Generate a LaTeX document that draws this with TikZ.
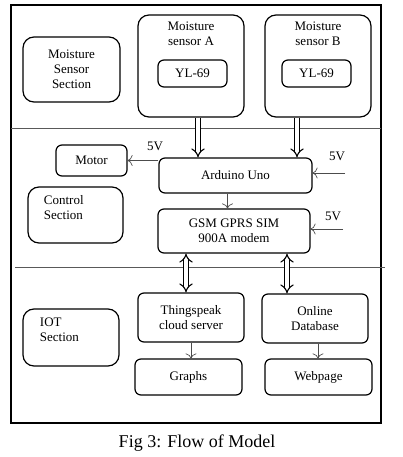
\documentclass[tikz,border=0pt]{standalone}
\usepackage{fontspec}
\setmainfont{Liberation Serif}
\usetikzlibrary{arrows.meta}
\usetikzlibrary{calc}

\tikzset{
  blk/.style={draw, line width=1.2pt, rounded corners=11pt, align=center, font=\fontsize{13}{15}\selectfont},
  sblk/.style={draw, line width=1.2pt, rounded corners=6pt, align=center, font=\fontsize{13}{15}\selectfont},
  txt/.style={align=center, font=\fontsize{13}{15}\selectfont},
  bus/.style={line width=1.1pt, double, double distance=3.5pt, -{Implies[length=5pt,width=12pt]}},
  wire/.style={-{To[length=5pt,width=11pt]}, gray!60!black, line width=0.7pt}
}

\begin{document}
\begin{tikzpicture}[x=1pt,y=-1pt]
  \useasboundingbox (0,0) rectangle (402,457);
  \draw[line width=1.4pt] (11,5) rectangle (381,423);
  \draw[gray!70!black] (11,128) -- (381,128);
  \draw[gray!70!black] (15,267) -- (385,267);

  % moisture sensor section
  \node[blk, minimum width=97, minimum height=65] (mss) at (71.5,69.5) {Moisture\\Sensor\\Section};
  \node[blk, minimum width=106, minimum height=102] (sensA) at (191,66) {};
  \node[txt, anchor=north] (sensAtxt) at ([yshift=-4pt]sensA.north) {Moisture\\sensor A};
  \node[sblk, minimum width=69, minimum height=27] (ylA) at (192.5,73.5) {YL-69};
  \node[blk, minimum width=106, minimum height=102] (sensB) at (318,66) {};
  \node[txt, anchor=north] (sensBtxt) at ([yshift=-4pt]sensB.north) {Moisture\\sensor B};
  \node[sblk, minimum width=69, minimum height=27] (ylB) at (316.5,73.5) {YL-69};

  % control section
  \node[sblk, minimum width=71, minimum height=31] (motor) at (91.5,160.5) {Motor};
  \node[sblk, minimum width=153, minimum height=35] (ard) at (235.5,175.5) {Arduino Uno};
  \node[blk, minimum width=95, minimum height=56] (ctl) at (75.5,215) {};
  \node[txt, align=left, anchor=north west] (ctltxt) at ([xshift=13pt,yshift=-6pt]ctl.north west) {Control\\Section};
  \node[sblk, minimum width=152, minimum height=44] (gsm) at (234,231) {GSM GPRS SIM\\900A modem};
  \coordinate (pwrA) at (345,173);
  \coordinate (pwrB) at (343,229);
  \node[txt] (vA) at (155,146) {5V};
  \node[txt] (vB) at (337,156) {5V};
  \node[txt] (vC) at (333,216) {5V};

  % iot section
  \node[sblk, minimum width=106, minimum height=49] (thing) at (191,317.5) {Thingspeak\\cloud server};
  \node[sblk, minimum width=106, minimum height=49] (db) at (315,318.5) {Online\\Database};
  \node[blk, minimum width=96, minimum height=57] (iot) at (71,337.5) {};
  \node[txt, align=left, anchor=north west] (iottxt) at ([xshift=14pt,yshift=-6pt]iot.north west) {IOT\\Section};
  \node[sblk, minimum width=107, minimum height=36] (graphs) at (188.5,377) {Graphs};
  \node[sblk, minimum width=107, minimum height=36] (web) at (318.5,377) {Webpage};

  % links
  \draw[bus] ([xshift=7pt]sensA.south) -- ([xshift=7pt]sensA.south |- ard.north);
  \draw[bus] ([xshift=-21pt]sensB.south) -- ([xshift=-21pt]sensB.south |- ard.north);
  \draw[wire] (motor.east -| ard.west) -- (motor.east);
  \draw[wire] (pwrA) -- (pwrA -| ard.east);
  \draw[wire] (pwrB) -- (pwrB -| gsm.east);
  \draw[wire] ([xshift=-8pt]ard.south) -- ([xshift=-8pt]ard.south |- gsm.north);
  \draw[bus, {Implies[length=5pt,width=12pt]}-{Implies[length=5pt,width=12pt]}] ([xshift=-5pt]thing.north |- gsm.south) -- ([xshift=-5pt]thing.north);
  \draw[bus, {Implies[length=5pt,width=12pt]}-{Implies[length=5pt,width=12pt]}] ([xshift=-28pt]db.north |- gsm.south) -- ([xshift=-28pt]db.north);
  \draw[wire] (thing.south) -- (thing.south |- graphs.north);
  \draw[wire] ([xshift=3pt]db.south) -- ([xshift=3pt]db.south |- web.north);

  \node[font=\fontsize{18}{20}\selectfont] (cap) at (197,443) {Fig 3: Flow of Model};
\end{tikzpicture}
\end{document}
